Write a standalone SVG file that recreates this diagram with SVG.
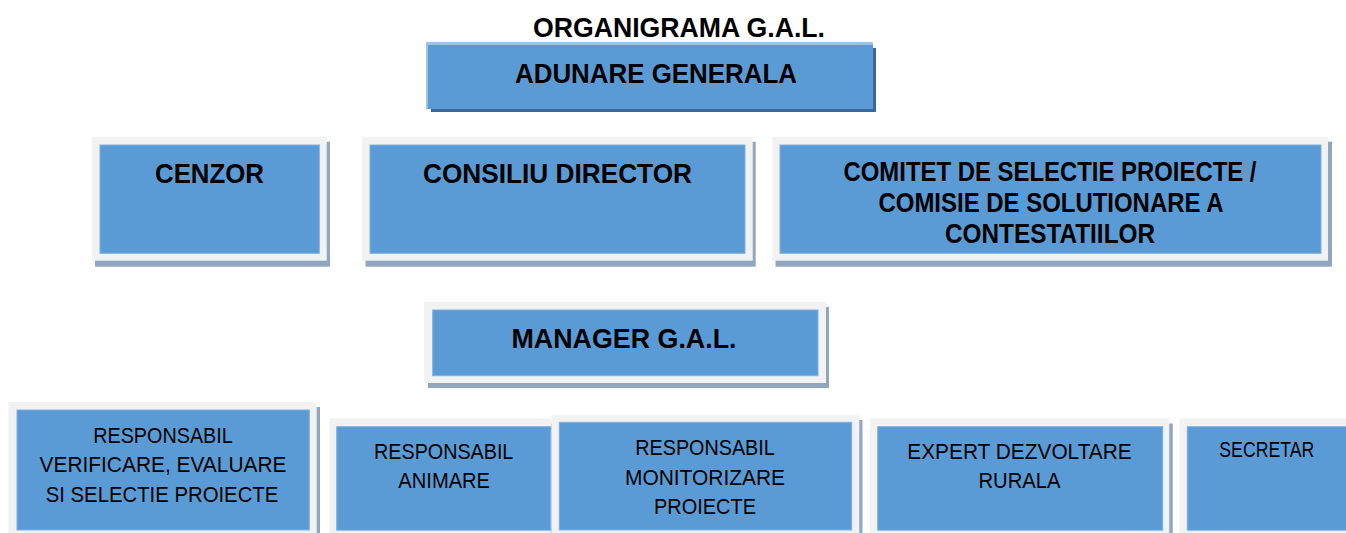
<svg xmlns="http://www.w3.org/2000/svg" width="1346" height="533" viewBox="0 0 1346 533">
<style>
.frame{fill:#f2f2f2}
.shadow{fill:#90a7bf}
.blue{fill:#5b9bd5;stroke:#7eb0e0;stroke-width:1}
.tb{font-family:"Liberation Sans",Arial,sans-serif;font-weight:bold;font-size:28px;fill:#000;text-anchor:middle}
.tr{font-family:"Liberation Sans",Arial,sans-serif;font-size:22px;fill:#000;text-anchor:middle}
</style>
<rect width="1346" height="533" fill="#ffffff"/>
<text id="title" class="tb" x="679" y="37" textLength="292" lengthAdjust="spacingAndGlyphs">ORGANIGRAMA G.A.L.</text>

<g id="adunare-generala">
<rect x="431" y="48" width="445" height="64" fill="#3b6898"/>
<rect x="426" y="42" width="447" height="67" fill="#9dc3e6"/>
<rect x="428" y="45" width="445" height="64" fill="#5b9bd5"/>
<text class="tb" x="656" y="83" textLength="282" lengthAdjust="spacingAndGlyphs">ADUNARE GENERALA</text>
</g>

<g id="cenzor">
<rect class="shadow" x="95" y="141.7" width="235" height="125"/>
<rect class="frame" x="91.7" y="136.7" width="235" height="124"/>
<rect class="blue" x="100" y="145" width="219.3" height="108.3"/>
<text class="tb" x="209.5" y="183.3" textLength="109" lengthAdjust="spacingAndGlyphs">CENZOR</text>
</g>

<g id="consiliu-director">
<rect class="shadow" x="365.5" y="141.7" width="390.2" height="125"/>
<rect class="frame" x="362" y="136.7" width="390.7" height="124"/>
<rect class="blue" x="370" y="145" width="375" height="108.3"/>
<text class="tb" x="557.5" y="183.3" textLength="269" lengthAdjust="spacingAndGlyphs">CONSILIU DIRECTOR</text>
</g>

<g id="comitet-selectie">
<rect class="shadow" x="775.5" y="141.7" width="556.5" height="125"/>
<rect class="frame" x="772.3" y="136.7" width="555.7" height="124"/>
<rect class="blue" x="780" y="145" width="541" height="108.3"/>
<text class="tb" font-size="27" x="1050" y="181" textLength="413" lengthAdjust="spacingAndGlyphs">COMITET DE SELECTIE PROIECTE /</text>
<text class="tb" font-size="27" x="1051" y="212" textLength="345" lengthAdjust="spacingAndGlyphs">COMISIE DE SOLUTIONARE A</text>
<text class="tb" font-size="27" x="1050" y="243" textLength="210" lengthAdjust="spacingAndGlyphs">CONTESTATIILOR</text>
</g>

<g id="manager-gal">
<rect class="shadow" x="428" y="307" width="401" height="81"/>
<rect class="frame" x="424" y="302" width="402" height="81"/>
<rect class="blue" x="432.7" y="310" width="385.3" height="65.7"/>
<text class="tb" x="624" y="348" textLength="225" lengthAdjust="spacingAndGlyphs">MANAGER G.A.L.</text>
</g>

<g id="resp-verificare">
<rect class="shadow" x="12" y="407" width="308" height="130"/>
<rect class="frame" x="8.5" y="402" width="308.2" height="135"/>
<rect class="blue" x="17" y="410" width="292.3" height="120"/>
<text class="tr" x="163" y="442.7" textLength="139.6" lengthAdjust="spacingAndGlyphs">RESPONSABIL</text>
<text class="tr" x="163" y="472.3" textLength="247" lengthAdjust="spacingAndGlyphs">VERIFICARE, EVALUARE</text>
<text class="tr" x="162" y="502.3" textLength="232.6" lengthAdjust="spacingAndGlyphs">SI SELECTIE PROIECTE</text>
</g>

<g id="resp-animare">
<rect class="shadow" x="333" y="423.5" width="222" height="115"/>
<rect class="frame" x="329.5" y="418.5" width="222" height="120"/>
<rect class="blue" x="336.7" y="426.7" width="214" height="103.5"/>
<text class="tr" x="443.7" y="459" textLength="139.3" lengthAdjust="spacingAndGlyphs">RESPONSABIL</text>
<text class="tr" x="444.2" y="488.3" textLength="91.7" lengthAdjust="spacingAndGlyphs">ANIMARE</text>
</g>

<g id="resp-monitorizare">
<rect class="shadow" x="555" y="420" width="307.5" height="118"/>
<rect class="frame" x="551.7" y="415" width="307.6" height="123"/>
<rect class="blue" x="559.3" y="422.3" width="292.4" height="107.7"/>
<text class="tr" x="705" y="455" textLength="139.5" lengthAdjust="spacingAndGlyphs">RESPONSABIL</text>
<text class="tr" x="705" y="485" textLength="160" lengthAdjust="spacingAndGlyphs">MONITORIZARE</text>
<text class="tr" x="705" y="514" textLength="102" lengthAdjust="spacingAndGlyphs">PROIECTE</text>
</g>

<g id="expert-dezvoltare">
<rect class="shadow" x="873.5" y="423.5" width="299.2" height="115"/>
<rect class="frame" x="870" y="418.5" width="299.3" height="120"/>
<rect class="blue" x="877.7" y="426.7" width="285" height="103.5"/>
<text class="tr" x="1019.5" y="459" textLength="224.5" lengthAdjust="spacingAndGlyphs">EXPERT DEZVOLTARE</text>
<text class="tr" x="1019.5" y="488.3" textLength="82" lengthAdjust="spacingAndGlyphs">RURALA</text>
</g>

<g id="secretar">
<rect class="shadow" x="1183" y="423.5" width="200" height="115"/>
<rect class="frame" x="1179.5" y="418.5" width="200" height="120"/>
<rect class="blue" x="1187.3" y="426.7" width="200" height="103.5"/>
<text class="tr" x="1266.8" y="456.7" textLength="95" lengthAdjust="spacingAndGlyphs">SECRETAR</text>
</g>

<g id="connectors"></g>
</svg>
